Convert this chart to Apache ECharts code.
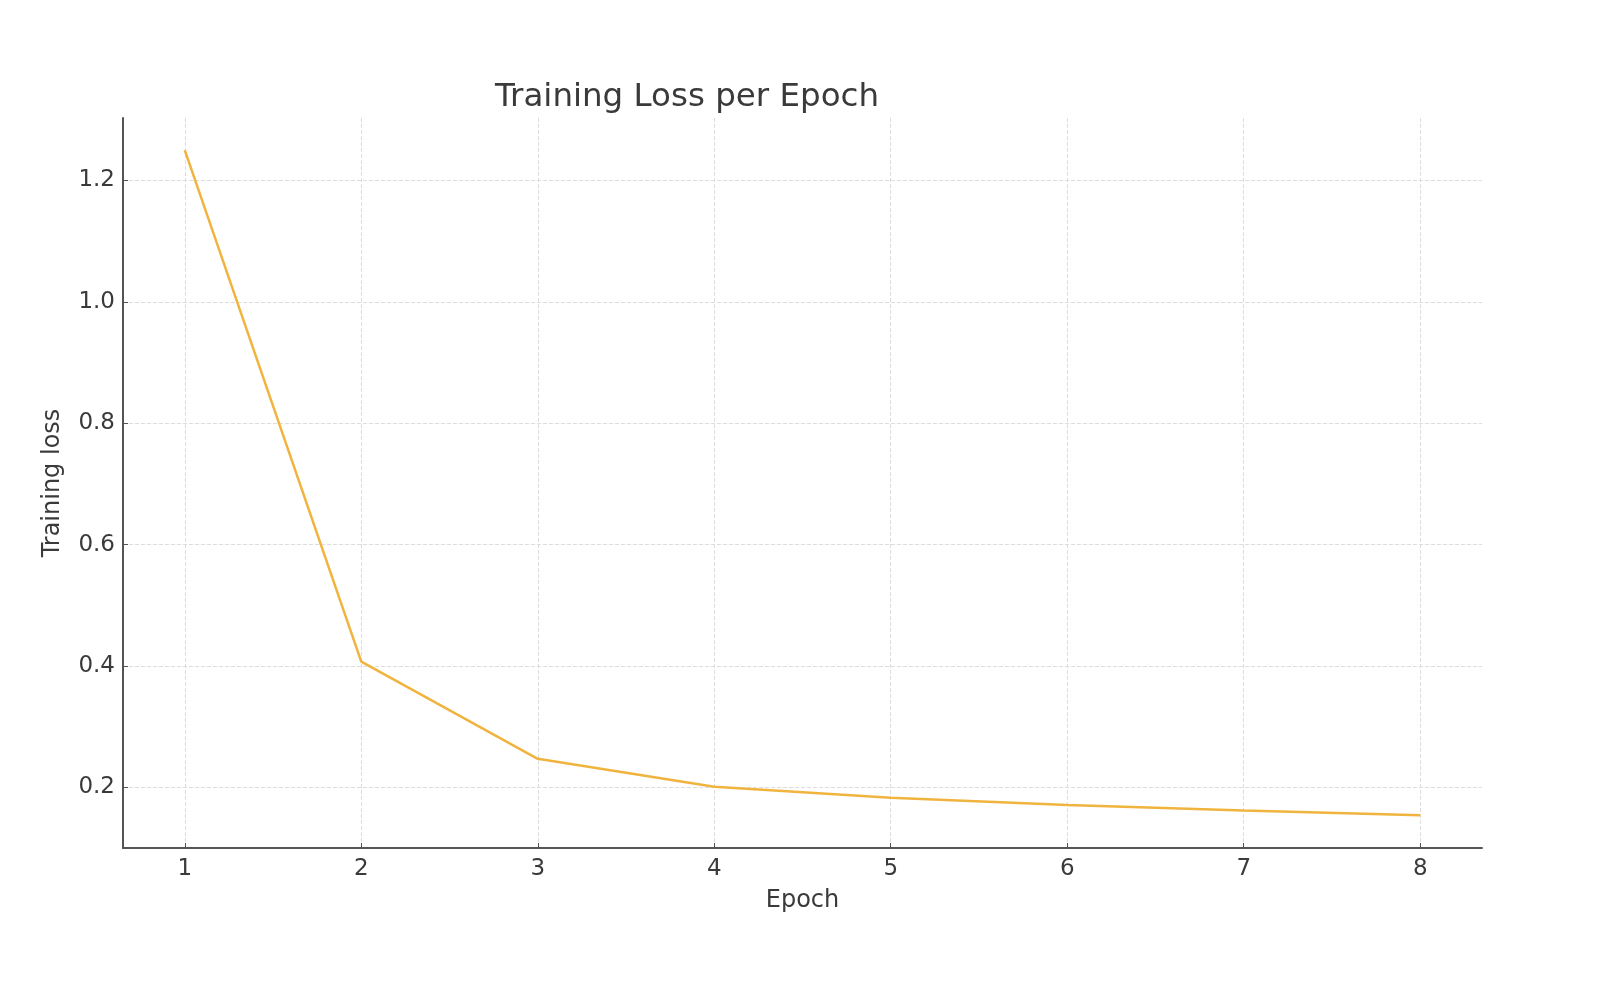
<!DOCTYPE html>
<html>
<head>
<meta charset="utf-8">
<title>Training Loss per Epoch</title>
<script src="https://cdn.jsdelivr.net/npm/echarts@6/dist/echarts.min.js"></script>
<style>
  html, body { margin: 0; padding: 0; background: #fff; }
  #chart { width: 1602px; height: 998px; }
</style>
</head>
<body>
<div id="chart"></div>
<script>
// Data
const epochs = [1, 2, 3, 4, 5, 6, 7, 8];
const trainingLoss = [1.25, 0.407, 0.247, 0.201, 0.183, 0.171, 0.162, 0.154];
const xTicks = [1, 2, 3, 4, 5, 6, 7, 8];
const yTicks = [0.2, 0.4, 0.6, 0.8, 1.0, 1.2];

const FONT = "DejaVu Sans";
const TEXT = "#3a3a3a";
const AXIS = "#555555";
const GRIDLINE = "#dddddd";

const chart = echarts.init(document.getElementById("chart"), null, { renderer: "canvas" });

chart.setOption({
  backgroundColor: "#ffffff",
  animation: false,
  textStyle: { fontFamily: FONT },
  title: {
    text: "Training Loss per Epoch",
    left: 490,
    top: 76,
    textStyle: { fontFamily: FONT, fontSize: 32.5, fontWeight: "normal", color: TEXT },
  },
  grid: { left: 123, right: 120, top: 118, bottom: 150 },
  xAxis: {
    type: "value",
    min: 0.65,
    max: 8.35,
    name: "Epoch",
    nameLocation: "middle",
    nameGap: 41,
    nameTextStyle: { fontFamily: FONT, fontSize: 24, color: TEXT },
    axisLine: { show: true, lineStyle: { color: AXIS, width: 2 } },
    axisTick: { show: true, inside: true, length: 5, customValues: xTicks, lineStyle: { color: AXIS } },
    axisLabel: {
      customValues: xTicks,
      fontFamily: FONT, fontSize: 23, color: TEXT, margin: 10,
    },
    splitLine: { show: true, lineStyle: { color: GRIDLINE, type: "dashed", width: 1 } },
  },
  yAxis: {
    type: "value",
    min: 0.1,
    max: 1.303,
    name: "Training loss",
    nameLocation: "middle",
    nameGap: 58,
    nameRotate: 90,
    nameTextStyle: { fontFamily: FONT, fontSize: 24, color: TEXT },
    axisLine: { show: true, lineStyle: { color: AXIS, width: 2 } },
    axisTick: { show: true, inside: true, length: 5, customValues: yTicks, lineStyle: { color: AXIS } },
    axisLabel: {
      customValues: yTicks,
      formatter: (v) => v.toFixed(1),
      fontFamily: FONT, fontSize: 23, color: TEXT, margin: 8,
    },
    splitLine: { show: true, lineStyle: { color: GRIDLINE, type: "dashed", width: 1 } },
  },
  series: [
    {
      type: "line",
      data: epochs.map((e, i) => [e, trainingLoss[i]]),
      showSymbol: false,
      lineStyle: { color: "#f0b43e", width: 2.5 },
      itemStyle: { color: "#f0b43e" },
    },
  ],
});
</script>
</body>
</html>
